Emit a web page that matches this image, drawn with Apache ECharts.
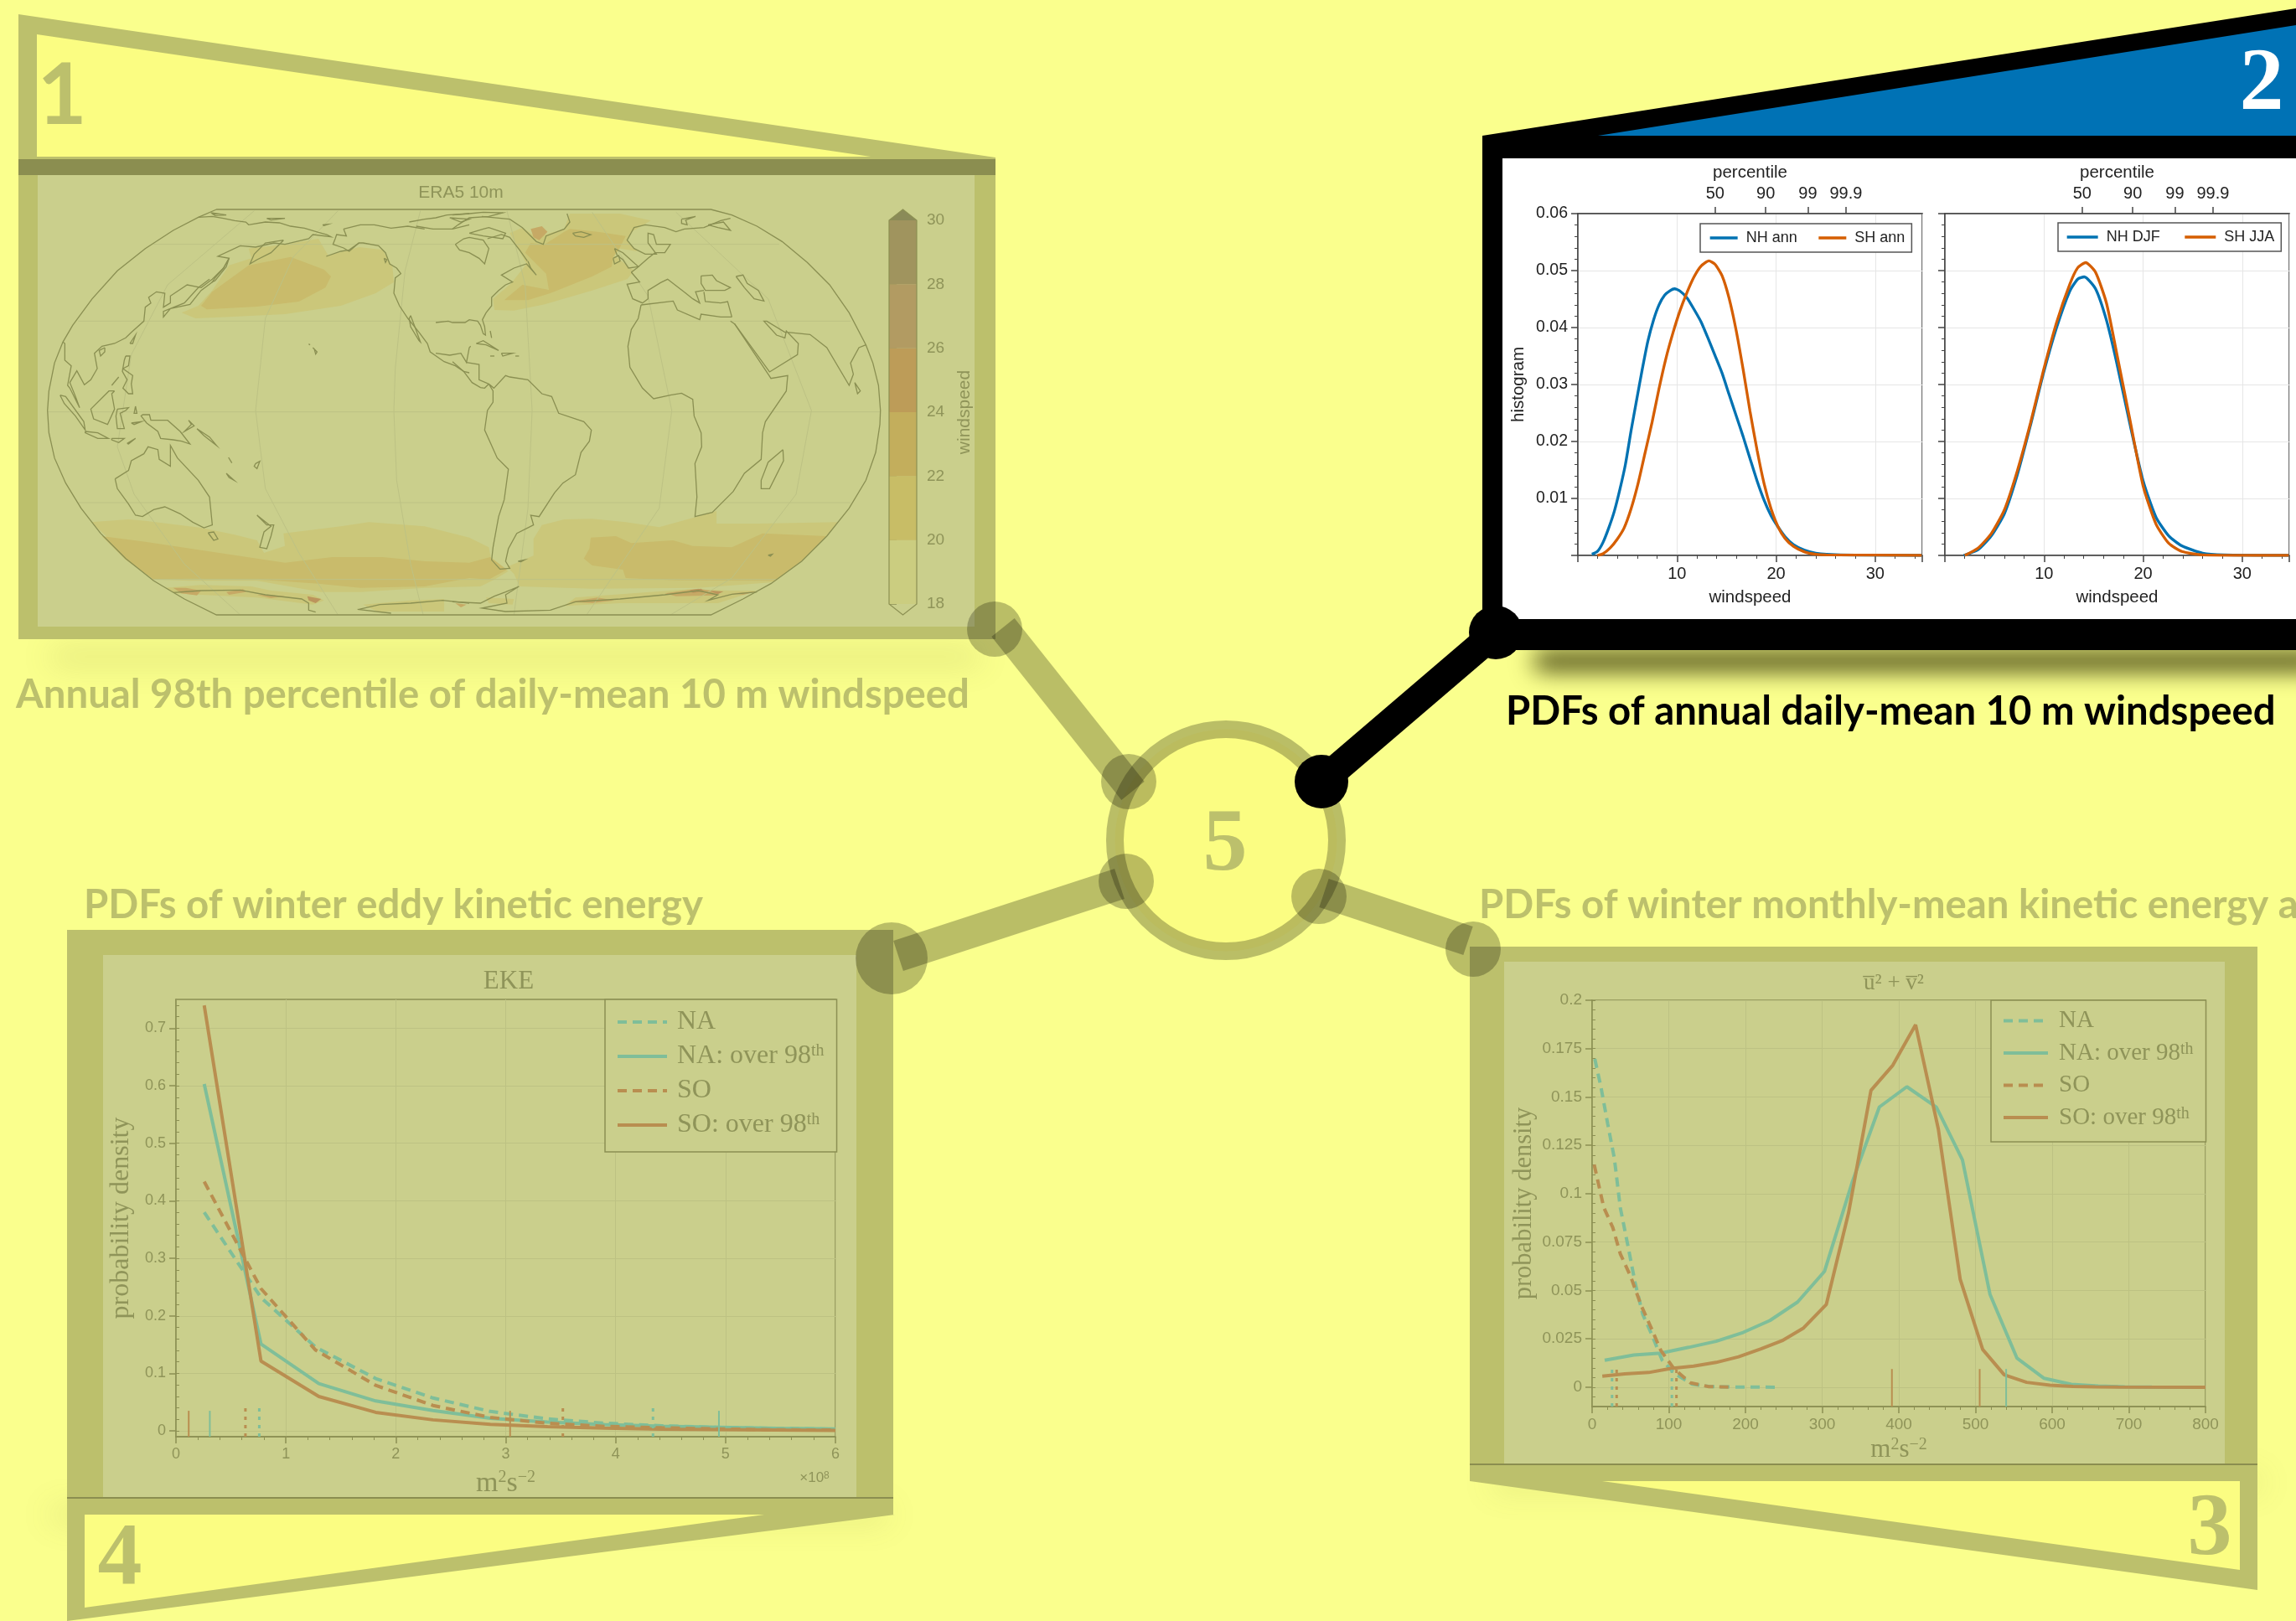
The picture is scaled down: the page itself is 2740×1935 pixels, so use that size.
<!DOCTYPE html>
<html>
<head>
<meta charset="utf-8">
<title>Windspeed panels</title>
<style>
html, body { margin: 0; padding: 0; background: #faff8d; }
#main { width: 2740px; height: 1935px; }
</style>
<script src="https://cdn.jsdelivr.net/npm/echarts@6/dist/echarts.min.js"></script>
</head>
<body>
<div id="main"></div>
<script>
// ---- panel 2: PDFs of windspeed
var pdfNhAnn = [[1.41,.0002],[1.98,.0007],[2.54,.0023],[3.11,.0048],[3.67,.0077],[4.24,.0116],[4.8,.016],[5.37,.0219],[5.93,.0273],[6.5,.0327],[7.06,.0376],[7.63,.0413],[8.19,.044],[8.76,.0457],[9.32,.0465],[9.75,.0468],[10.31,.0464],[11.02,.0452],[11.72,.0432],[12.43,.041],[13.14,.0381],[13.84,.0351],[14.55,.032],[15.25,.0283],[15.96,.0246],[16.67,.0209],[17.37,.017],[18.08,.0131],[18.79,.0097],[19.49,.007],[20.2,.005],[20.9,.0033],[21.75,.0019],[22.88,.0009],[24,.0004],[25.1,.0002],[28,.00005],[34.7,0]];
var pdfShAnn = [[1.98,0],[2.54,.0003],[3.25,.0013],[3.95,.0028],[4.66,.0048],[5.37,.0082],[6.07,.0126],[6.78,.018],[7.49,.0234],[8.19,.0293],[8.9,.0347],[9.6,.0391],[10.31,.043],[11.02,.0462],[11.72,.0489],[12.43,.0508],[13.22,.0517],[13.84,.0511],[14.55,.0491],[15.25,.0452],[15.96,.0396],[16.67,.0327],[17.37,.0253],[18.08,.0185],[18.79,.0126],[19.49,.0082],[20.2,.005],[20.9,.003],[21.75,.0016],[22.88,.0006],[24,.0002],[25.1,.0001],[34.7,0]];
var pdfNhDjf = [[1.9,0],[3.35,.001],[4.67,.0034],[6,.0073],[7.3,.0141],[8.63,.0228],[9.95,.032],[11.27,.04],[12.6,.0464],[13.4,.0485],[14.06,.0489],[15.2,.0468],[16.3,.0413],[17.3,.0341],[18.65,.0232],[20,.0131],[21.3,.0067],[22.6,.0034],[23.9,.0017],[26,.0004],[28.2,.0001],[34.7,0]];
var pdfShJja = [[2,0],[3.35,.0013],[4.67,.0038],[6,.008],[7.3,.0148],[8.63,.0232],[9.95,.0325],[11.27,.0409],[12.6,.0476],[13.4,.0505],[14.2,.0514],[15.2,.0497],[16.3,.0443],[17.3,.0358],[18.65,.024],[20,.0122],[21.3,.0055],[22.6,.0021],[23.9,.0007],[26,.0001],[34.7,0]];
var pctValues = [13.85, 18.95, 23.2, 27.05];
var pctLabels = ['50', '90', '99', '99.9'];

// ---- panel 4: EKE
var ekeNaAll = [[.257,.38],[.7735,.2318],[1.27,.1458],[1.817,.0911],[2.338,.0573],[2.86,.0339],[3.38,.021],[3.9,.0135],[4.42,.009],[4.94,.006],[5.46,.0045],[6,.003]];
var ekeNaOver = [[.257,.603],[.7735,.151],[1.3,.0823],[1.817,.0521],[2.338,.0354],[2.86,.0219],[3.38,.0155],[3.9,.011],[4.42,.0082],[4.94,.0065],[5.46,.0045],[6,.0035]];
var ekeSoAll = [[.257,.4333],[.7735,.2474],[1.27,.1406],[1.817,.0792],[2.338,.0443],[2.86,.0234],[3.38,.0135],[3.9,.008],[4.42,.0055],[4.94,.0035],[5.46,.002],[6,.0015]];
var ekeSoOver = [[.257,.7396],[.7735,.1214],[1.3,.0599],[1.817,.0323],[2.338,.0193],[2.86,.0115],[3.38,.0075],[3.9,.0048],[4.42,.0032],[4.94,.0022],[5.46,.0015],[6,.001]];
var ekeRugNaSolid = [.308, 4.94];
var ekeRugSoSolid = [.116, 3.04];
var ekeRugNaDot = [.758, 4.34];
var ekeRugSoDot = [.632, 3.52];
var ekeYTicks = [0, .1, .2, .3, .4, .5, .6, .7];

// ---- panel 3: kinetic energy of the mean flow
var keNaAll = [[3.5,.1697],[11.3,.1556],[20.3,.1362],[29,.1183],[36.7,.0929],[46.5,.0735],[56,.0541],[66,.0377],[77.7,.0273],[91.4,.0139],[107,.0072],[130.5,.0016],[154,.0003],[190,.0001],[239,0]];
var keNaOver = [[16.4,.0139],[54.3,.0166],[89.5,.0176],[126,.0206],[161.7,.0237],[197,.0283],[232,.0345],[268,.044],[303,.0598],[339.5,.1063],[374.6,.1448],[410.5,.1553],[449,.1447],[483,.1175],[519,.0479],[554,.0151],[589.5,.0046],[625,.0015],[660,.0006],[695,.0002],[730,.0001],[800,0]];
var keSoAll = [[2.7,.115],[15.2,.0929],[27,.0825],[36.7,.069],[50.4,.0571],[64,.0422],[75.8,.0318],[89.5,.0191],[107,.0094],[128.5,.0022],[152,.0003],[181,0]];
var keSoOver = [[13.3,.0057],[42.6,.0069],[73.8,.0076],[103,.0097],[132.4,.0109],[161.7,.0128],[191,.0157],[220.3,.0198],[247.7,.024],[275.8,.0306],[305.5,.0428],[334.4,.09],[363.7,.1534],[392.2,.1664],[421.9,.1873],[451.6,.1333],[480,.0559],[509.4,.0195],[537.5,.0064],[566.8,.0025],[597,.001],[627,.0004],[656,.0002],[686,.0001],[800,0]];
var keRugNaSolid = [540];
var keRugSoSolid = [391, 505.5];
var keRugNaDot = [26, 104];
var keRugSoDot = [32, 110];
var keYTicks = [0, .025, .05, .075, .1, .125, .15, .175, .2];

// ---- panel 1: colour levels
var cbarLevels = [[18,20],[20,22],[22,24],[24,26],[26,28],[28,30]];
var cbarColors = ['#cbcd80', '#c8bd66', '#c3ae5c', '#bd9c58', '#b29b62', '#a0945e'];
var zoneColors = ['', '#cbc77a', '#c9bb6b', '#c6a965', '#bc945c'];

// map outlines in the map's own units, as flat x,y lists (west half, then east half shifted by 1500)
var mapFrameWest = [655,30,590,58,500,105,400,170,300,250,210,350,140,445,105,505,75,580,55,680,50,750,55,830,75,920,115,1010,170,1100,240,1190,330,1280,430,1360,540,1425,655,1482];
var mapFrameEast = [925,1482,1040,1425,1140,1370,1250,1290,1340,1200,1420,1100,1480,1000,1515,900,1530,800,1532,750,1525,660,1505,580,1480,515,1420,400,1350,300,1270,220,1180,145,1090,90,1000,50,925,30];
var gratWest = [
    [790,35,480,300,350,550,300,880,360,1050,540,1300,740,1482],
    [1090,35,930,200,830,420,795,750,830,1030,950,1260,1090,1482],
    [1385,35,1330,250,1295,600,1290,750,1300,1000,1350,1300,1395,1482],
    [430,155,2670,155],[160,430,2925,430],[50,755,3030,755],[160,1080,2925,1080],[430,1355,2660,1355]
];
var gratEast = [
    [195,35,260,300,285,750,270,1100,220,1482],
    [500,40,700,340,785,750,740,1100,480,1482],
    [800,40,1130,350,1285,750,1230,1050,1000,1350,780,1482]
];
var coastWest = [
    [590,58,640,55,680,62,720,70,760,75,770,85,830,75,880,78,920,90,970,97,1020,112,1050,120,1065,128,1000,120,985,135,900,155,860,150,795,165,740,160,660,198,700,205,680,240,640,280,600,310,550,300,490,340,490,365,465,380,470,330,440,325,412,345,420,365,400,380,395,430,350,470,330,490,290,510,245,520,218,545,228,600,205,640,182,658,155,608,130,650,150,700,165,740,130,670,122,660,135,590,112,570,112,510,105,505],
    [895,140,830,150,790,190,775,225,800,210,850,185,895,140],
    [700,205,680,240,650,275,640,290,650,285,690,235,700,205],
    [640,290,600,320,560,370,490,385,465,415,465,395,540,365,590,310,630,280],
    [255,525,235,535,240,555,255,540,255,525],
    [345,510,365,480,355,510,345,510],
    [330,555,345,555,340,590,320,600,355,625,350,655,355,690,340,690,320,670,335,640,318,610,325,570,330,555],
    [280,660,305,630],
    [290,680,270,680,205,745,215,780,265,800,290,745,280,690,290,680],
    [95,695,115,700,180,790,185,820,150,770,110,725,95,695],
    [185,825,230,830,268,850,230,850,185,830,185,825],
    [300,745,340,740,330,750,310,760,325,815,300,815,295,770,300,745],
    [280,850,325,850,305,865,280,855,280,850],
    [335,868,365,850,340,870,335,868],
    [365,735,370,760,360,760,365,735],
    [350,795,385,790,360,800,350,795],
    [390,765,415,765,420,785,480,785,525,825,560,870,530,860,500,855,455,850,445,825,405,795,385,770,390,765],
    [555,785,575,805,540,825,565,800,555,785],
    [585,815,630,845,655,875,610,840,585,815],
    [292,995,340,965,350,930,395,905,410,880,445,890,450,925,490,950,490,875,515,920,590,1000,630,1060,640,1160,610,1170,570,1150,525,1120,470,1095,430,1105,390,1130,365,1125,340,1085,300,1030,292,995],
    [625,1188,645,1185,660,1210,645,1215,625,1188],
    [800,1125,835,1160,860,1160,850,1200,835,1245,810,1240,825,1185,850,1165,800,1125],
    [690,975,718,1000,700,990,690,975],
    [698,918,710,938],
    [795,940,810,932,800,958,790,950,795,940],
    [985,512,990,515],
    [1000,525,1015,540,1010,548,1005,530,1000,525],
    [1048,198,1100,180,1130,175,1165,150],
    [1110,100,1120,125,1085,120,1080,135,1072,155,1110,168,1130,180,1165,150,1180,150,1235,160,1260,185,1275,225,1300,240,1315,260,1295,275,1290,330,1310,375,1340,420,1380,470,1410,510,1420,540,1470,575,1510,590,1540,610,1560,615],
    [1110,100,1170,85,1220,85,1280,97,1340,90,1400,100],
    [1350,410,1365,450,1385,505,1380,500,1350,450,1345,420,1350,410],
    [1255,205,1265,210,1260,220,1255,205],
    [1345,75,1400,65,1440,60,1480,50,1560,45],
    [1370,90,1430,100,1500,100,1560,85],
    [1490,60,1560,65,1530,75,1490,60],
    [500,1402,600,1395,740,1393,830,1410,960,1425,985,1440,985,1465,1010,1472],
    [1165,1462,1240,1445,1350,1440,1465,1430,1560,1440],
    [1160,1462,1280,1476],
    [635,42,690,50,650,52,635,42],
    [835,62,900,62,850,68,835,62],
    [1035,85,1055,83,1040,88,1035,85]
];
var coastEast = [
    [0,50,60,45,110,40,180,42,130,55,60,60,20,85,0,100],
    [10,155,40,135,60,130,110,140,130,170,115,225,95,205,60,185,25,175,10,155],
    [125,135,175,120,205,130,240,175,268,215],
    [60,115,110,100,130,95,190,115,180,135,110,125,60,115],
    [105,55,205,65,250,95,300,145,325,155,335,125,400,100,420,75,410,45],
    [-60,435,-15,430,0,435,45,435,60,425,90,430,100,445,110,475,118,480,115,450,107,425,120,400,140,375,140,345,165,320,190,300,215,290,175,265,220,240,265,225,300,265,280,240,270,215],
    [-60,545,-10,552,30,545,50,578,60,525,65,520],
    [0,575,40,610,70,650,100,668,115,670,130,655],
    [50,578,95,585,95,640,130,655],
    [85,510,110,500,165,535,120,515,85,510],
    [175,545,215,545,180,555,175,545],
    [135,555,150,555],[225,555,238,555],[135,465,140,490],
    [130,655,148,670,190,625,205,630,270,640,320,690,355,700,380,760,470,790,497,820,490,860,460,900,440,980,395,1010,365,1045,310,1130,280,1125,290,1160,230,1190,200,1245,190,1290,205,1315,170,1318,140,1285,145,1240,165,1130,185,1070,200,960,160,920,115,820,125,750,145,720,145,680,130,655],
    [235,1290,258,1285,245,1292,235,1290],
    [430,115,460,110,495,120,470,130,440,125,430,115],
    [580,170,610,185,665,235,630,240,610,210,590,195,580,170],
    [575,205,595,195,600,215,580,225,575,205],
    [640,255,670,290,625,298,645,350,680,365,700,350,700,320,745,292,770,280,835,330,860,350,885,365,870,325,900,320],
    [640,255,660,240,700,205,725,185,760,185,780,155,730,155,720,120,700,115,700,150,730,190,690,190,650,170,625,140,650,95,690,85,760,95,800,110,830,100,900,95,960,70,995,62],
    [820,65,870,55,835,68,840,85,820,80,820,65],
    [915,85,970,75,995,105,950,95,915,85],
    [890,268,930,265,945,285,995,310,975,320,905,320,890,295,890,268],
    [1015,270,1040,265,1055,295,1095,320,1115,358,1080,350,1045,310,1015,270],
    [900,325,905,360,960,365,985,360,1000,415],
    [675,372,790,358,805,390,885,425,890,405,960,415,1000,415],
    [675,372,665,420,640,460,628,520,635,595,680,670,720,708,780,695,820,688,860,710,865,770,890,830,892,880,868,940,875,1060,868,1130,930,1115,1005,1040,1045,975,1105,925,1110,830,1120,790,1195,680,1200,625,1140,635,1130,620,1070,530,1010,440,995,430],
    [1010,440,1135,612,1235,550,1238,510,1195,465,1190,490,1160,480,1115,430,1125,430,1190,470,1200,470,1280,478,1340,525,1420,660,1435,620,1425,580,1455,525,1480,515],
    [1440,650,1460,680,1450,690,1440,650],
    [1183,890,1185,930,1135,1030,1105,1030,1105,1000,1130,935,1183,890],
    [1130,1268,1145,1265,1138,1272,1130,1268],
    [0,1435,100,1440,150,1415,190,1400,238,1380,190,1410,195,1440,105,1458,190,1470,350,1465,440,1435,600,1425,760,1410,880,1395,950,1410,915,1430,1000,1408,1090,1400]
];
// windspeed areas in the same units, first entry is the colour level
var zoneWest = [
    [1, 530,400,590,375,640,320,700,230,780,205,770,170,900,155,1020,135,1055,195,1165,165,1250,175,1285,235,1290,290,1225,330,1100,375,900,405,700,415,580,420],
    [2, 600,375,640,325,770,230,920,200,1040,245,1065,270,1045,310,950,360,800,378,620,388],
    [1, 205,1150,340,1140,400,1145,600,1170,720,1195,800,1215,825,1260,900,1235,895,1190,1100,1165,1200,1150,1400,1165,1560,1205,1630,1240,1640,1290,1700,1325,1650,1355,1600,1380,1400,1385,1170,1400,1030,1400,800,1360,560,1360,430,1355],
    [2, 245,1200,400,1220,700,1265,900,1295,1070,1275,1250,1275,1400,1290,1560,1295,1635,1275,1695,1320,1630,1355,1560,1350,1400,1380,1170,1385,1020,1370,800,1355,560,1352,430,1355,330,1285],
    [1, 470,1385,600,1375,780,1380,850,1395,1000,1410,1040,1430,1000,1445,800,1420,600,1410,510,1405],
    [1, 1180,1445,1350,1430,1470,1425,1470,1470,1230,1470],
    [3, 500,1385,545,1385,600,1395,585,1412,530,1405],
    [3, 690,1400,750,1390,760,1400,700,1410],
    [3, 800,1410,860,1412,900,1415,850,1422],
    [4, 980,1415,1030,1425,1010,1440,985,1430]
];
var zoneEast = [
    [1, 150,390,145,350,210,295,265,225,205,115,250,95,300,130,400,100,420,45,600,45,710,70,640,110,625,140,660,180,600,170,580,195,650,250,625,280,500,320,330,370,220,392],
    [2, 185,355,250,300,345,318,335,260,260,185,280,150,330,155,400,110,420,100,520,110,620,125,600,165,575,200,570,235,500,270,350,330,270,355],
    [3, 280,100,320,90,340,110,310,140,290,130],
    [1, 320,1160,400,1140,500,1138,620,1150,740,1168,870,1132,945,1110,945,1155,1100,1155,1380,1150,1340,1200,1250,1290,1150,1365,880,1385,500,1388,240,1380,220,1335,195,1310,290,1270,290,1210],
    [2, 495,1205,585,1200,640,1225,790,1215,860,1235,1000,1240,1110,1190,1340,1200,1250,1290,1150,1360,800,1358,620,1350,610,1320,500,1305,470,1280,490,1245],
    [1, 440,1420,850,1390,990,1395,1090,1395,950,1440,600,1440,400,1450],
    [1, 120,1420,220,1425,215,1445,130,1440],
    [3, 420,1435,520,1420,580,1430,500,1440],
    [3, 760,1405,880,1388,960,1400,940,1412,800,1415],
    [3, 10,1440,50,1445,30,1455],
    [4, 850,1393,890,1388,900,1398,860,1403],
    [4, 920,1395,970,1398,950,1408],
    [3, 1000,1405,1090,1398,1040,1410]
];

function toPoints(flat, dx) {
    var pts = [];
    for (var i = 0; i + 1 < flat.length; i += 2) { pts.push([flat[i] + dx, flat[i + 1]]); }
    return pts;
}
var features = [], mapRegions = [], fcount = 0;
function addLine(flat, dx, style) {
    var name = 'f' + (fcount++);
    features.push({type: 'Feature', properties: {name: name}, geometry: {type: 'LineString', coordinates: toPoints(flat, dx)}});
    if (style) { mapRegions.push({name: name, itemStyle: style}); }
}
function addZone(z, dx) {
    var name = 'f' + (fcount++), ring = toPoints(z.slice(1), dx);
    ring.push(ring[0]);
    features.push({type: 'Feature', properties: {name: name}, geometry: {type: 'Polygon', coordinates: [ring]}});
    mapRegions.push({name: name, itemStyle: {areaColor: zoneColors[z[0]], borderWidth: 0, borderColor: 'transparent'}});
}
zoneWest.forEach(function (z) { addZone(z, 0); });
zoneEast.forEach(function (z) { addZone(z, 1500); });
var gridLook = {borderColor: '#bdc284', borderWidth: 1};
gratWest.forEach(function (l) { addLine(l, 0, gridLook); });
gratEast.forEach(function (l) { addLine(l, 1500, gridLook); });
// frame of the map
var frameRing = toPoints(mapFrameWest, 0).concat(toPoints(mapFrameEast, 1500));
frameRing.push(frameRing[0]);
features.push({type: 'Feature', properties: {name: 'frame'}, geometry: {type: 'Polygon', coordinates: [frameRing]}});
coastWest.forEach(function (l) { addLine(l, 0); });
coastEast.forEach(function (l) { addLine(l, 1500); });
echarts.registerMap('era5', {type: 'FeatureCollection', features: features});

// ---- colours
var dimText = '#8f9459', dimLine = '#8c9053', dimGrid = '#bdc283';
var tealLine = '#7fbe99', brownLine = '#b98e50';
var blueLine = '#0072b2', redLine = '#d55e00';
var frameFill = '#bcc06c', panelFill = '#cacf8c', flapFill = '#fbfd82', overlay = 'rgba(15,15,0,0.27)', bgYellow = '#faff8d';
var sansFont = '"Liberation Sans", Arial, sans-serif', serifFont = '"Liberation Serif", serif';

// ---- helpers for drawn furniture
var graphics = [];
function poly(points, fill, z) { graphics.push({type: 'polygon', z: z || -10, silent: true, shape: {points: points}, style: {fill: fill}}); }
function box(x, y, w, h, fill, z) { graphics.push({type: 'rect', z: z || -10, silent: true, shape: {x: x, y: y, width: w, height: h}, style: {fill: fill}}); }
function blobAt(x, y, r, fill) { graphics.push({type: 'circle', z: 30, silent: true, shape: {cx: x, cy: y, r: r}, style: {fill: fill}}); }
function bar(x1, y1, x2, y2, w, col) { graphics.push({type: 'line', z: 29, silent: true, shape: {x1: x1, y1: y1, x2: x2, y2: y2}, style: {stroke: col, lineWidth: w}}); }
function label(txt, x, y, font, fill, align, rich) {
    graphics.push({type: 'text', z: 31, silent: true, x: x, y: y, style: {text: txt, font: font, fill: fill, textAlign: align || 'center', textVerticalAlign: 'middle', rich: rich}});
}
// only the blurred shadow lands on the page, the rect itself sits far above it
function shadow(x, y, w, h, col, blur) {
    graphics.push({type: 'rect', z: -20, silent: true, shape: {x: x, y: y - 4000, width: w, height: h, r: h / 2}, style: {fill: col, shadowBlur: blur, shadowColor: col, shadowOffsetY: 4000}});
}

shadow(60, 778, 1110, 12, 'rgba(120,122,50,0.55)', 36);
shadow(1830, 778, 940, 22, 'rgba(60,60,10,1)', 28);
shadow(60, 1802, 1000, 12, 'rgba(120,122,50,0.5)', 36);
shadow(1780, 1764, 920, 12, 'rgba(120,122,50,0.5)', 36);

// panel 1 frame
poly([[22,17],[1188,188],[1188,200],[22,200]], frameFill);
poly([[44,41],[1039,187],[44,187]], flapFill);
box(22, 190, 1166, 573, frameFill);
box(45, 209, 1118, 539, panelFill);
box(22, 190, 1166, 19, '#8b8e50');
label('1', 74, 115, 'bold 102px Lato', frameFill);
label('ERA5 10m', 550, 230, '21px ' + sansFont, dimText);
label('Annual 98th percentile of daily-mean 10 m windspeed', 19, 830, 'bold 47.3px Lato', frameFill, 'left');
// colour bar end arrows and outline
poly([[1061,263],[1094,263],[1077.5,250]], '#8a8b58', -5);
poly([[1061,721],[1094,721],[1077.5,734]], panelFill, -5);
graphics.push({type: 'polygon', z: 5, silent: true, shape: {points: [[1061,263],[1077.5,250],[1094,263],[1094,721],[1077.5,734],[1061,721]]}, style: {fill: 'none', stroke: dimLine, lineWidth: 1.2}});

// panel 2 frame
poly([[1769,162],[2740,10],[2740,162]], '#000');
poly([[1907,162],[2740,30],[2740,162]], '#0072b5');
box(1769, 162, 971, 614, '#000');
box(1793, 189, 947, 550, '#fff');
label('2', 2699, 103, 'bold 106px ' + serifFont, '#fff');
label('PDFs of annual daily-mean 10 m windspeed', 1797, 850, 'bold 47.3px Lato', '#000', 'left');

// panel 3 frame
box(1754, 1130, 940, 638, frameFill);
box(1795, 1148, 860, 600, panelFill);
poly([[1754,1768],[2694,1768],[2694,1898]], frameFill);
poly([[1912,1768],[2673,1768],[2673,1874]], flapFill);
box(1754, 1747, 940, 2, '#8b8e50');
label('3', 2637, 1828, 'bold 106px ' + serifFont, frameFill);
label('PDFs of winter monthly-mean kinetic energy a', 1765, 1081, 'bold 47.3px Lato', frameFill, 'left');
label('u\u0305\u00b2 + v\u0305\u00b2', 2260, 1174, '27px ' + serifFont, dimText);

// panel 4 frame
box(80, 1110, 986, 698, frameFill);
box(123, 1140, 899, 648, panelFill);
poly([[80,1808],[1068,1808],[80,1935]], frameFill);
poly([[101,1808],[912,1808],[101,1919]], flapFill);
box(80, 1787, 986, 2, '#8b8e50');
label('4', 143, 1864, 'bold 106px ' + serifFont, frameFill);
label('PDFs of winter eddy kinetic energy', 100, 1081, 'bold 47.3px Lato', frameFill, 'left');
label('EKE', 607, 1172, '31px ' + serifFont, dimText);
label('\u00d710{s|8}', 972, 1764, '17px ' + sansFont, dimText, 'center', {s: {fontSize: 12, fontFamily: sansFont, fill: dimText, verticalAlign: 'top'}});

// hub and spokes
graphics.push({type: 'circle', z: 28, silent: true, shape: {cx: 1463, cy: 1003, r: 132.5}, style: {fill: flapFill, stroke: overlay, lineWidth: 21}});
label('5', 1462, 1011, 'bold 106px ' + serifFont, frameFill);
bar(1197, 749, 1352, 944, 35, overlay);
bar(1580, 1066, 1752, 1123, 36, overlay);
bar(1336, 1055, 1072, 1141, 38, overlay);
blobAt(1187, 751, 33, overlay);
blobAt(1347, 933, 33, overlay);
blobAt(1574, 1070, 33, overlay);
blobAt(1758, 1133, 33, overlay);
blobAt(1344, 1052, 33, overlay);
blobAt(1064, 1144, 43, overlay);
bar(1577, 933, 1785, 755, 34, '#000');
blobAt(1577, 933, 32, '#000');
blobAt(1785, 755, 32, '#000');

// ---- helpers for series
function lineSeries(name, data, color, dashed, xi, yi, smooth, width) {
    return {
        name: name, type: 'line', data: data, xAxisIndex: xi, yAxisIndex: yi,
        symbol: 'none', smooth: smooth ? 0.2 : false, silent: true,
        lineStyle: {color: color, width: width, type: dashed ? [11, 7] : 'solid'},
        itemStyle: {color: color}
    };
}
function rugSeries(values, top, bottom, color, dotted, xi, yi) {
    return values.map(function (x) {
        return {
            type: 'line', data: [[x, bottom], [x, top]], xAxisIndex: xi, yAxisIndex: yi,
            symbol: 'none', silent: true, z: 3,
            lineStyle: {color: color, width: dotted ? 3 : 2, type: dotted ? [4, 6] : 'solid'}
        };
    });
}
function tickList(step, lo, hi) {
    var out = [];
    for (var i = Math.ceil(lo / step - 1e-9); i * step <= hi + 1e-9; i++) { out.push(+(i * step).toFixed(5)); }
    return out;
}
function axisBase(col, gridCol, size) {
    return {
        axisLine: {show: true, onZero: false, lineStyle: {color: col, width: 1.5}},
        axisTick: {show: true, length: 8, lineStyle: {color: col, width: 1.5}},
        minorTick: {show: true, splitNumber: 5, length: 4, lineStyle: {color: col, width: 1}},
        splitLine: {show: true, lineStyle: {color: gridCol, width: 1}},
        axisLabel: {color: col === dimLine ? dimText : '#222', fontSize: size, fontFamily: sansFont, margin: 12},
        nameTextStyle: {color: col === dimLine ? dimText : '#222', fontFamily: sansFont, fontSize: 20.5},
        nameLocation: 'middle'
    };
}
function merge(a, b) {
    for (var k in b) {
        if (a[k] && typeof a[k] === 'object' && !Array.isArray(a[k]) && typeof b[k] === 'object') { merge(a[k], b[k]); } else { a[k] = b[k]; }
    }
    return a;
}
var supRich = {s: {fontFamily: serifFont, fontSize: 20, color: dimText, verticalAlign: 'top'}};
var unitName = 'm{s|2}s{s|\u22122}';

var xAxes = [], yAxes = [];
// grid 0, 1: panel 2
[0, 1].forEach(function (g) {
    xAxes.push(merge(axisBase('#444', '#e6e6e6', 20), {
        type: 'value', gridIndex: g, min: 0, max: 34.75, interval: 10, name: 'windspeed', nameGap: 40,
        axisLabel: {showMaxLabel: false, formatter: function (v) { return v === 0 ? '' : String(v); }}
    }));
    xAxes.push({
        type: 'value', gridIndex: g, position: 'top', min: 0, max: 34.75, name: 'percentile', nameLocation: 'middle', nameGap: 38,
        nameTextStyle: {color: '#222', fontFamily: sansFont, fontSize: 20.5},
        axisLine: {show: true, onZero: false, lineStyle: {color: '#444', width: 1.5}}, splitLine: {show: false},
        axisTick: {show: true, length: 8, customValues: pctValues, lineStyle: {color: '#444', width: 1.5}},
        axisLabel: {color: '#222', fontSize: 20, fontFamily: sansFont, margin: 14, customValues: pctValues, formatter: function (v) { return pctLabels[pctValues.indexOf(v)]; }}
    });
    yAxes.push(merge(axisBase('#444', '#e6e6e6', 19.5), {
        type: 'value', gridIndex: g, min: 0, max: 0.06, interval: 0.01,
        name: g === 0 ? 'histogram' : '', nameGap: 60, nameRotate: 90,
        axisLabel: {show: g === 0, formatter: function (v) { return v === 0 ? '' : v.toFixed(2); }}
    }));
});
// grid 2: panel 4
xAxes.push(merge(axisBase(dimLine, dimGrid, 18), {
    type: 'value', gridIndex: 2, min: 0, max: 6, interval: 1, name: unitName, nameGap: 39,
    nameTextStyle: {fontFamily: serifFont, fontSize: 34, rich: supRich}
}));
yAxes.push(merge(axisBase(dimLine, dimGrid, 18), {
    type: 'value', gridIndex: 2, min: -0.01, max: 0.75, name: 'probability density', nameGap: 49, nameRotate: 90,
    nameTextStyle: {fontFamily: serifFont, fontSize: 32},
    minorTick: {show: false},
    axisTick: {customValues: ekeYTicks},
    axisLabel: {customValues: ekeYTicks, formatter: function (v) { return String(v); }}
}));
yAxes.push({
    type: 'value', gridIndex: 2, min: -0.01, max: 0.75, axisLine: {show: false}, axisLabel: {show: false}, splitLine: {show: false},
    axisTick: {show: true, length: 4, customValues: tickList(0.02, 0, 0.74), lineStyle: {color: dimLine, width: 1}}
});
// grid 3: panel 3
xAxes.push(merge(axisBase(dimLine, dimGrid, 19), {
    type: 'value', gridIndex: 3, min: 0, max: 800, interval: 100, name: unitName, nameGap: 36,
    nameTextStyle: {fontFamily: serifFont, fontSize: 31, rich: supRich}
}));
yAxes.push(merge(axisBase(dimLine, dimGrid, 19), {
    type: 'value', gridIndex: 3, min: -0.01, max: 0.2, name: 'probability density', nameGap: 66, nameRotate: 90,
    nameTextStyle: {fontFamily: serifFont, fontSize: 30.5},
    minorTick: {show: false},
    axisTick: {customValues: keYTicks},
    axisLabel: {customValues: keYTicks, formatter: function (v) { return String(v); }}
}));
yAxes.push({
    type: 'value', gridIndex: 3, min: -0.01, max: 0.2, axisLine: {show: false}, axisLabel: {show: false}, splitLine: {show: false},
    axisTick: {show: true, length: 4, customValues: tickList(0.005, -0.01, 0.2), lineStyle: {color: dimLine, width: 1}}
});
// grid 4: colour bar
xAxes.push({type: 'value', gridIndex: 4, min: 0, max: 1, show: false});
yAxes.push({
    type: 'value', gridIndex: 4, position: 'right', min: 18, max: 30, interval: 2,
    name: 'windspeed', nameLocation: 'middle', nameRotate: 90, nameGap: 47,
    nameTextStyle: {color: dimText, fontFamily: sansFont, fontSize: 21},
    axisLine: {show: false}, splitLine: {show: false},
    axisTick: {show: true, length: 9, lineStyle: {color: dimLine, width: 1.5}},
    axisLabel: {color: dimText, fontFamily: sansFont, fontSize: 19, margin: 12}
});

var series = [
    lineSeries('NH ann', pdfNhAnn, blueLine, false, 0, 0, true, 3.3),
    lineSeries('SH ann', pdfShAnn, redLine, false, 0, 0, true, 3.3),
    lineSeries('NH DJF', pdfNhDjf, blueLine, false, 2, 1, true, 3.3),
    lineSeries('SH JJA', pdfShJja, redLine, false, 2, 1, true, 3.3),
    lineSeries('NA', ekeNaAll, tealLine, true, 4, 2, false, 4),
    lineSeries('NA: over 98th', ekeNaOver, tealLine, false, 4, 2, false, 4),
    lineSeries('SO', ekeSoAll, brownLine, true, 4, 2, false, 4),
    lineSeries('SO: over 98th', ekeSoOver, brownLine, false, 4, 2, false, 4),
    lineSeries('NA', keNaAll, tealLine, true, 5, 4, false, 4),
    lineSeries('NA: over 98th', keNaOver, tealLine, false, 5, 4, false, 4),
    lineSeries('SO', keSoAll, brownLine, true, 5, 4, false, 4),
    lineSeries('SO: over 98th', keSoOver, brownLine, false, 5, 4, false, 4)
].concat(
    rugSeries(ekeRugNaSolid, 0.035, -0.01, tealLine, false, 4, 2),
    rugSeries(ekeRugSoSolid, 0.035, -0.01, brownLine, false, 4, 2),
    rugSeries(ekeRugNaDot, 0.04, -0.01, tealLine, true, 4, 2),
    rugSeries(ekeRugSoDot, 0.04, -0.01, brownLine, true, 4, 2),
    rugSeries(keRugNaSolid, 0.0094, -0.01, tealLine, false, 5, 4),
    rugSeries(keRugSoSolid, 0.0094, -0.01, brownLine, false, 5, 4),
    rugSeries(keRugNaDot, 0.0094, -0.01, tealLine, true, 5, 4),
    rugSeries(keRugSoDot, 0.0094, -0.01, brownLine, true, 5, 4)
);
series.push({
    type: 'custom', xAxisIndex: 6, yAxisIndex: 6, silent: true,
    data: cbarLevels,
    encode: {y: [0, 1]},
    renderItem: function (params, api) {
        var p0 = api.coord([0, api.value(0)]), p1 = api.coord([1, api.value(1)]);
        return {
            type: 'rect',
            shape: {x: p0[0], y: p1[1], width: p1[0] - p0[0], height: p0[1] - p1[1]},
            style: {fill: cbarColors[params.dataIndex]}
        };
    }
});

// legend entries carry their own line look so the icon matches the curve
function legendEntry(name, color, dashed, width) {
    return {name: name, lineStyle: {color: color, width: width, type: dashed ? [11, 7] : 'solid', opacity: 1}};
}
function legendBox(names, left, top, w, gap, pad, size, bg, col, textPad, rich) {
    return {
        data: names, left: left, top: top, selectedMode: false, itemWidth: w, itemHeight: 10, itemGap: gap, padding: pad,
        orient: rich ? 'vertical' : 'horizontal', backgroundColor: bg, borderColor: col, borderWidth: 1.5,
        itemStyle: {color: 'transparent', borderColor: 'transparent', borderWidth: 0},
        textStyle: {color: rich ? dimText : '#222', fontSize: size, lineHeight: size, fontFamily: rich ? serifFont : sansFont, padding: [0, 0, 0, textPad], rich: rich || {}},
        formatter: function (n) { return rich ? n.replace('th', '{s|th}') : n; }
    };
}
var legendRich = {s: {fontFamily: serifFont, fontSize: 20, color: dimText, verticalAlign: 'top'}};
var dimEntries = [
    legendEntry('NA', tealLine, true, 4), legendEntry('NA: over 98th', tealLine, false, 4),
    legendEntry('SO', brownLine, true, 4), legendEntry('SO: over 98th', brownLine, false, 4)
];

var option = {
    animation: false,
    backgroundColor: bgYellow,
    graphic: {elements: graphics},
    grid: [
        {left: 1883, top: 255, width: 411, height: 408, show: true, borderColor: '#444', borderWidth: 1.5, backgroundColor: 'transparent'},
        {left: 2321, top: 255, width: 411, height: 408, show: true, borderColor: '#444', borderWidth: 1.5, backgroundColor: 'transparent'},
        {left: 210, top: 1193, width: 787, height: 522, show: true, borderColor: dimLine, borderWidth: 1.5, backgroundColor: 'transparent'},
        {left: 1900, top: 1194, width: 732, height: 485, show: true, borderColor: dimLine, borderWidth: 1.5, backgroundColor: 'transparent'},
        {left: 1061, top: 263, width: 33, height: 458}
    ],
    xAxis: xAxes,
    yAxis: yAxes,
    legend: [
        legendBox([legendEntry('NH ann', blueLine, false, 3.3), legendEntry('SH ann', redLine, false, 3.3)], 2029, 267, 33, 24, [8, 8, 8, 10], 18, '#fff', '#555', 5),
        legendBox([legendEntry('NH DJF', blueLine, false, 3.3), legendEntry('SH JJA', redLine, false, 3.3)], 2456, 266, 37, 28, [8, 8, 8, 9], 18, '#fff', '#555', 5),
        legendBox(dimEntries, 722, 1193, 59, 9, [11, 15, 16, 13], 32, panelFill, dimLine, 7, legendRich),
        legendBox(dimEntries, 2376, 1194, 53, 9.5, [10, 15, 14.5, 13], 29, panelFill, dimLine, 8, legendRich)
    ],
    geo: {
        map: 'era5', left: 56.7, top: 250, width: 994, height: 484, silent: true, roam: false,
        projection: {project: function (p) { return p; }, unproject: function (p) { return p; }},
        label: {show: false},
        itemStyle: {areaColor: 'transparent', borderColor: '#8a8f52', borderWidth: 1.3},
        emphasis: {disabled: true}, select: {disabled: true},
        regions: mapRegions
    },
    series: series
};

var chart = echarts.init(document.getElementById('main'), null, {width: 2740, height: 1935});
chart.setOption(option);
</script>
</body>
</html>
